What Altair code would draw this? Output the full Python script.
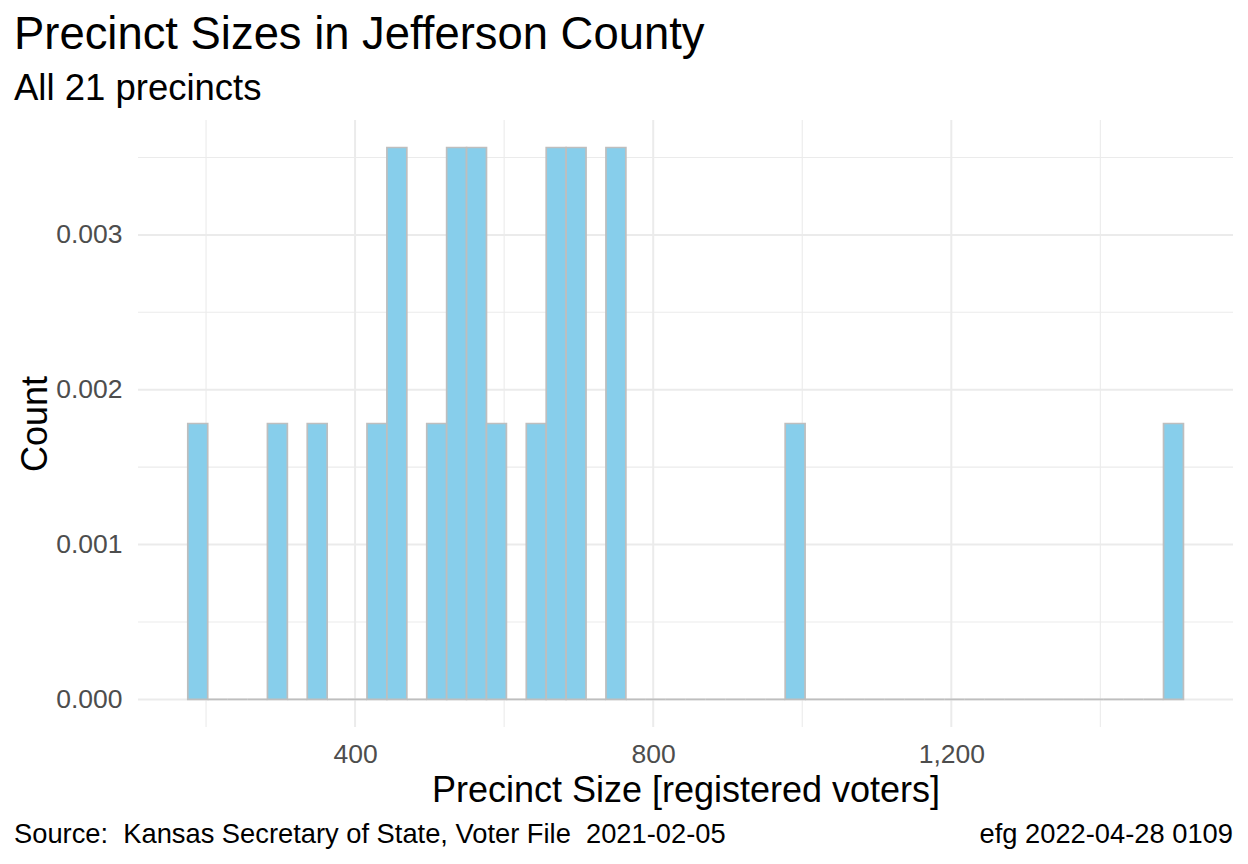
import altair as alt
import pandas as pd

# ---- data (histogram, 50 bins, density scale) ----
bin_counts = [1, 0, 0, 0, 1, 0, 1, 0, 0, 1,
              2, 0, 1, 2, 2, 1, 0, 1, 2, 2,
              0, 2, 0, 0, 0, 0, 0, 0, 0, 0,
              1, 0, 0, 0, 0, 0, 0, 0, 0, 0,
              0, 0, 0, 0, 0, 0, 0, 0, 0, 1]
n_precincts = 21
first_edge = 175.5
bin_width = 26.72

x_major = [400, 800, 1200]
x_minor = [200, 600, 1000, 1400]
y_major = [0.0, 0.001, 0.002, 0.003]
y_minor = [0.0005, 0.0015, 0.0025, 0.0035]

x_domain = [108.7, 1578.0]
y_domain = [-0.000178, 0.003742]

FONT = "Liberation Sans"
W, H = 1095, 607

starts = [first_edge + i * bin_width for i in range(len(bin_counts))]
df = pd.DataFrame({
    "start": starts,
    "end": [s + bin_width for s in starts],
    "density": [c / (n_precincts * bin_width) for c in bin_counts],
    "zero": [0.0] * len(bin_counts),
})

xs = alt.Scale(domain=x_domain, nice=False, zero=False)
ys = alt.Scale(domain=y_domain, nice=False, zero=False)

x_axis = alt.Axis(
    values=x_major, format=",d", grid=False, ticks=False, domain=False,
    labelFontSize=26.5, labelColor="#4D4D4D", labelFont=FONT,
    labelPadding=14,
    title="Precinct Size [registered voters]", titleFont=FONT,
    titleFontSize=36, titleFontWeight="normal", titleColor="black",
    titleY=74, titleBaseline="alphabetic")
y_axis = alt.Axis(
    values=y_major, format=".3f", grid=False, ticks=False, domain=False,
    labelFontSize=26.5, labelColor="#4D4D4D", labelFont=FONT,
    labelPadding=16, labelBaseline="middle",
    title="Count", titleFont=FONT, titleFontSize=36,
    titleFontWeight="normal", titleColor="black",
    titleX=-92, titleY=H / 2, titleAlign="center",
    titleBaseline="alphabetic")

grid_color = "#EBEBEB"
XT = "Precinct Size [registered voters]"

xminor = alt.Chart(pd.DataFrame({"v": x_minor})).mark_rule(
    color=grid_color, strokeWidth=1.1).encode(
    x=alt.X("v:Q", scale=xs, axis=x_axis, title=XT))
yminor = alt.Chart(pd.DataFrame({"v": y_minor})).mark_rule(
    color=grid_color, strokeWidth=1.1).encode(
    y=alt.Y("v:Q", scale=ys, axis=y_axis, title="Count"))
xmajor = alt.Chart(pd.DataFrame({"v": x_major})).mark_rule(
    color=grid_color, strokeWidth=2).encode(
    x=alt.X("v:Q", scale=xs, axis=x_axis, title=XT))
ymajor = alt.Chart(pd.DataFrame({"v": y_major})).mark_rule(
    color=grid_color, strokeWidth=2).encode(
    y=alt.Y("v:Q", scale=ys, axis=y_axis, title="Count"))

bars = alt.Chart(df).mark_rect(
    fill="#87CEEB", stroke="#BEBEBE", strokeWidth=1.7
).encode(
    x=alt.X("start:Q", scale=xs, axis=x_axis, title=XT),
    x2="end:Q",
    y=alt.Y("density:Q", scale=ys, axis=y_axis, title="Count"),
    y2="zero:Q",
)

one = pd.DataFrame({"a": [0]})
cap_left = alt.Chart(one).mark_text(
    text="Source:\u00a0 Kansas Secretary of State, Voter File\u00a0 2021-02-05",
    align="left", baseline="alphabetic", font=FONT, fontSize=27.3, color="black"
).encode(x=alt.value(-124), y=alt.value(H + 116))
cap_right = alt.Chart(one).mark_text(
    text="efg 2022-04-28 0109",
    align="right", baseline="alphabetic", font=FONT, fontSize=27.3, color="black"
).encode(x=alt.value(W), y=alt.value(H + 116))

chart = alt.layer(xminor, yminor, xmajor, ymajor, bars, cap_left, cap_right).properties(
    width=W, height=H,
    background="white",
    title=alt.Title(
        "Precinct Sizes in Jefferson County",
        subtitle="All 21 precincts",
        anchor="start", frame="group", dx=-124, offset=12,
        font=FONT, fontSize=45.4, fontWeight="normal", color="black",
        subtitleFont=FONT, subtitleFontSize=36.5, subtitleColor="black",
        subtitlePadding=12),
    autosize=alt.AutoSizeParams(type="none"),
    padding={"left": 138, "top": 120, "right": 15, "bottom": 137},
).configure_view(stroke=None, strokeWidth=0)

chart.save("out.html", embed_options={"renderer": "svg", "actions": False})
